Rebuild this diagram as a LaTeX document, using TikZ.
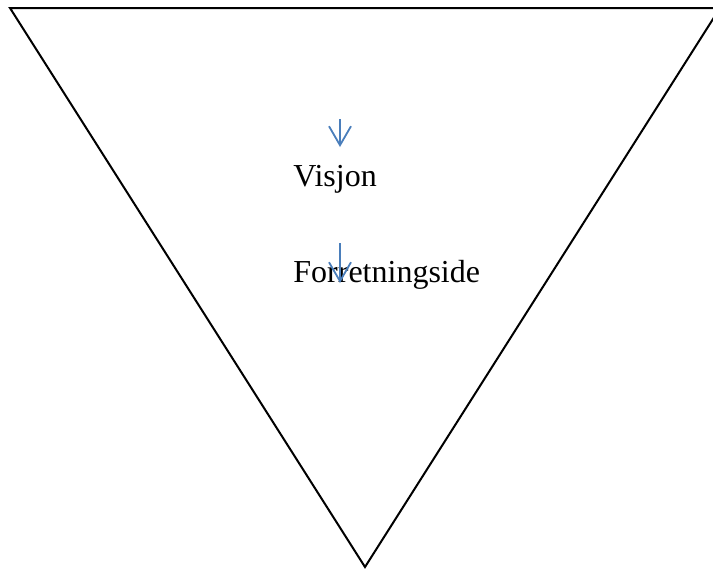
\documentclass[tikz,border=0pt]{standalone}
\usepackage{fontspec}
\setmainfont{Liberation Serif}
\usepackage{xcolor}
\usetikzlibrary{arrows.meta}

\definecolor{pilblue}{HTML}{4A7EBB}

\begin{document}
\begin{tikzpicture}[x=0.5pt,y=-0.5pt,
   pil/.style={draw=pilblue, line width=0.9pt, -{Straight Barb[length=9.5pt,width=11pt,line width=0.9pt]}},
   tekst/.style={anchor=base west, inner sep=0pt, font=\fontsize{16}{19}\selectfont}]
\useasboundingbox (0,0) rectangle (713,569);

\coordinate (V) at (10,8);
\coordinate (H) at (720,8);
\coordinate (B) at (365,567);
\draw[line width=1pt, line join=miter] (V) -- (H) -- (B) -- cycle;

\node[tekst] (visjon) at (293,186) {Visjon};
\node[tekst] (forretning) at (293,282) {Forretningside};

\coordinate (A1) at (340,119);
\coordinate (A2) at (340,147);
\coordinate (A3) at (340,243);
\coordinate (A4) at (340,283);

\draw[pil] (A1) -- (A2);
\draw[pil] (A3) -- (A4);
\end{tikzpicture}
\end{document}
